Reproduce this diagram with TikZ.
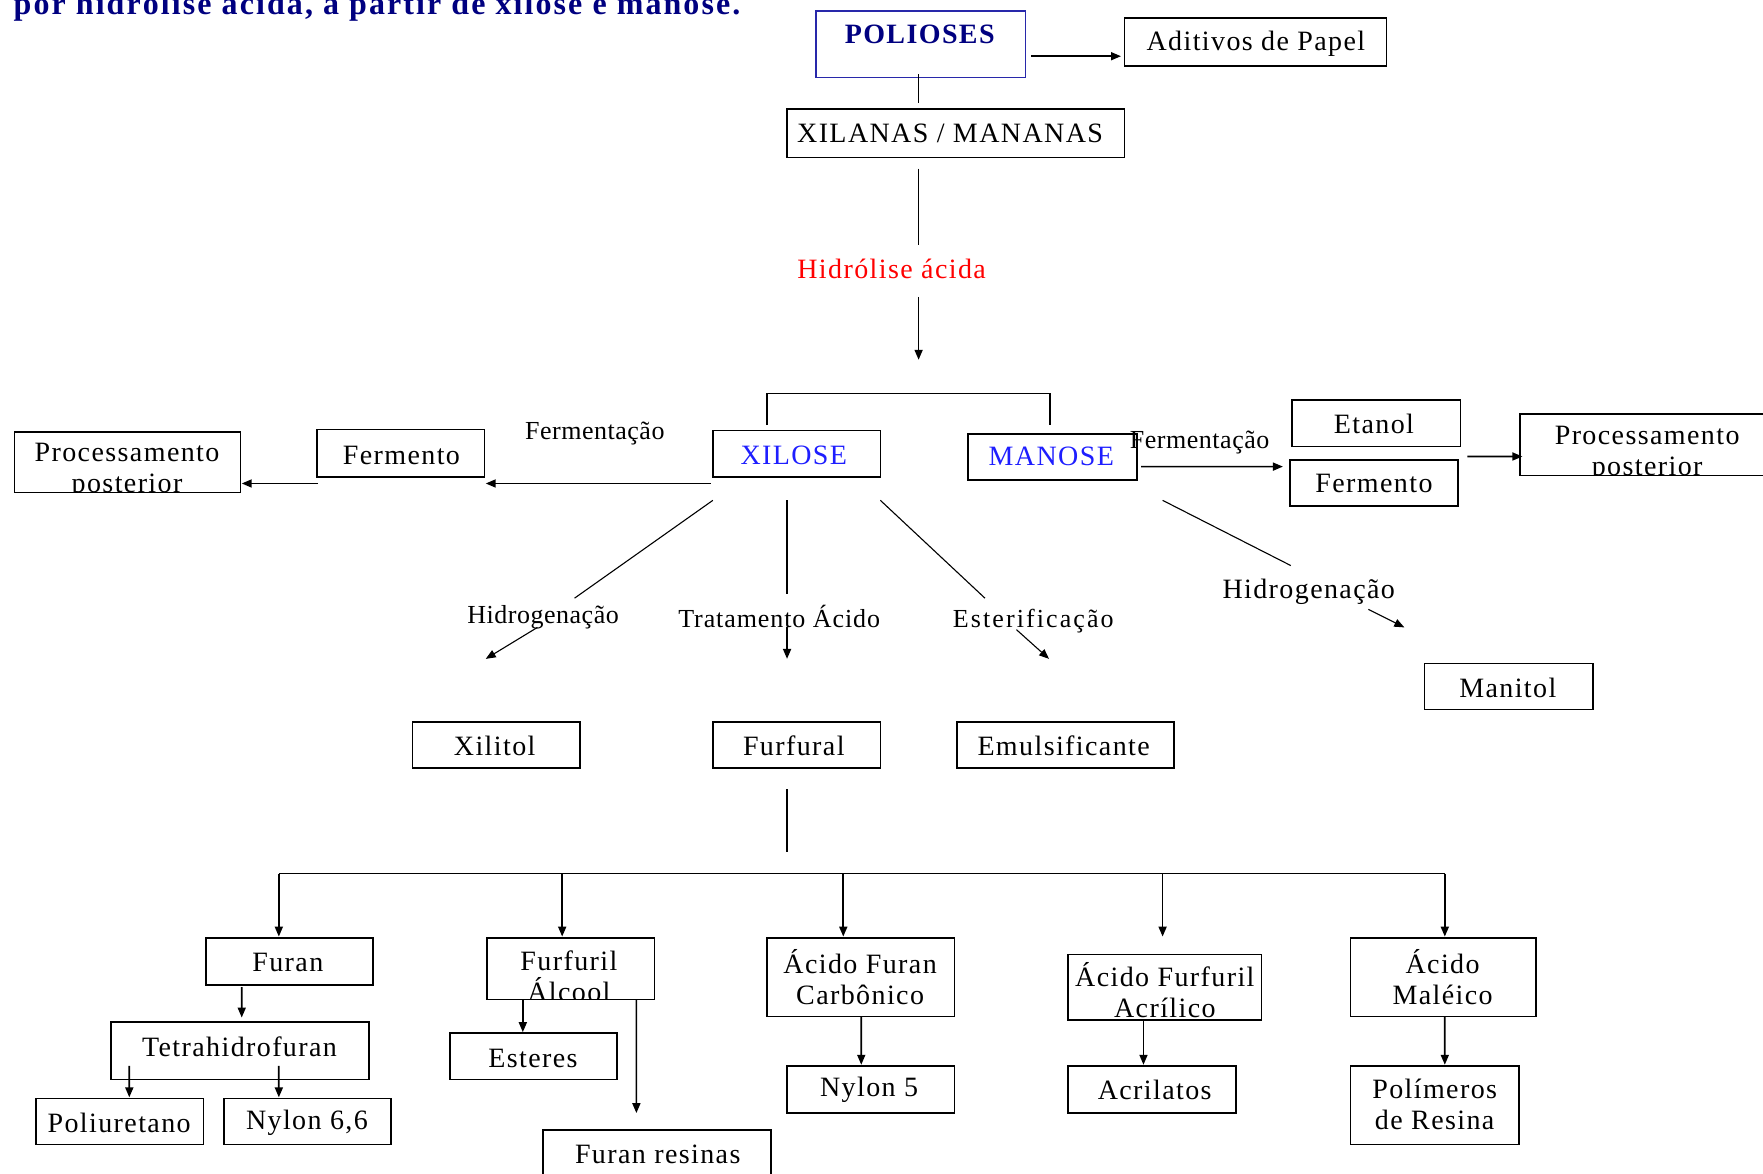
\documentclass[tikz,border=0pt]{standalone}
\usepackage{fontspec}
\setmainfont{Liberation Serif}
\newfontfamily\lsfam[LetterSpace=5]{Liberation Serif}
\newfontfamily\lbfam[LetterSpace=2]{Liberation Serif}
\newfontfamily\trfam[LetterSpace=3.5]{Liberation Serif}
\newfontfamily\esfam[LetterSpace=8]{Liberation Serif}
\newfontfamily\ttlfam[LetterSpace=6.5]{Liberation Serif}
\usetikzlibrary{arrows.meta,fit}
\definecolor{navyT}{RGB}{0,0,128}
\definecolor{polB}{RGB}{40,40,170}
\definecolor{sugB}{RGB}{30,30,255}
\newcommand\bxfont{\lsfam\fontsize{28}{31}\selectfont}
\newcommand\lbfont{\lbfam\fontsize{26}{30}\selectfont}
\begin{document}
\begin{tikzpicture}[x=1.1244pt,y=-1.1244pt,
  bx/.style={draw, line width=1.7pt, inner sep=0pt, outer sep=0pt},
  txt/.style={font=\bxfont, align=center, inner sep=0pt},
  ln/.style={line width=1.7pt},
  dg/.style={line width=1.1pt},
  arr/.style={line width=1.7pt, -{Triangle[length=10pt,width=8pt]}},
  darr/.style={line width=1.1pt, -{Triangle[length=10pt,width=8pt]}},
  lbl/.style={font=\lbfont, inner sep=0pt}
]
\useasboundingbox (0,0) rectangle (1568,1044);
\fill[white] (0,0) rectangle (1568,1044);

% title (cut at top, as in the original)
\node[anchor=base west, inner sep=0pt, font=\ttlfam\bfseries\fontsize{32}{36}\selectfont, text=navyT] (title) at (12,12.5) {por hidrólise ácida, a partir de xilose e manose.};

% ---- boxes ----
\node[bx, draw=polB, fit={(726,10) (912,69)}] (pol) {};
\node[bx, fit={(1000,16) (1233,59)}] (adit) {};
\node[bx, fit={(700,97) (1000,140)}] (xil) {};
\node[bx, fit={(634,383) (783,424)}] (xilose) {};
\node[bx, fit={(861,386) (1011,427)}] (manose) {};
\node[bx, fit={(282,382) (431,424)}] (fermL) {};
\node[bx, fit={(13,384) (214,438)}] (procL) {};
\node[bx, fit={(1149,356) (1299,397)}] (etanol) {};
\node[bx, fit={(1147,409) (1297,450)}] (fermR) {};
\node[bx, fit={(1352,368) (1578,423)}] (procR) {};
\node[bx, fit={(1267,590) (1417,631)}] (manitol) {};
\node[bx, fit={(367,642) (516,683)}] (xilitol) {};
\node[bx, fit={(634,642) (783,683)}] (furfural) {};
\node[bx, fit={(851,642) (1044,683)}] (emul) {};
\node[bx, fit={(183,834) (332,876)}] (furan) {};
\node[bx, fit={(433,834) (582,889)}] (falc) {};
\node[bx, fit={(682,834) (849,904)}] (afc) {};
\node[bx, fit={(950,849) (1122,907)}] (afa) {};
\node[bx, fit={(1201,834) (1366,904)}] (amal) {};
\node[bx, fit={(99,909) (328,960)}] (thf) {};
\node[bx, fit={(32,977) (181,1018)}] (poli) {};
\node[bx, fit={(199,977) (348,1018)}] (ny66) {};
\node[bx, fit={(400,919) (549,960)}] (est) {};
\node[bx, fit={(483,1005) (686,1047)}] (fres) {};
\node[bx, fit={(700,948) (849,990)}] (ny5) {};
\node[bx, fit={(950,948) (1099,990)}] (acr) {};
\node[bx, fit={(1201,948) (1351,1018)}] (pres) {};

% ---- box texts ----
\node[txt, font=\bxfont\bfseries, text=navyT] (polT) at (818,31) {POLIOSES};
\node[txt] (aditT) at (1117,39) {Aditivos de Papel};
\node[txt] (xilT) at (845,119) {XILANAS / MANANAS};
\node[txt, text=sugB] (xiloseT) at (706,405) {XILOSE};
\node[txt, text=sugB] (manoseT) at (935,406) {MANOSE};
\node[txt] (fermLT) at (357,405) {Fermento};
\begin{scope}
  \clip (procL.south west) rectangle (procL.north east);
  \node[txt] (procLT) at (113,419) {Processamento\\posterior};
\end{scope}
\node[txt] (etanolT) at (1222,377) {Etanol};
\node[txt] (fermRT) at (1222,430) {Fermento};
\begin{scope}
  \clip (procR.south west) rectangle (procR.north east);
  \node[txt] (procRT) at (1465,404) {Processamento\\posterior};
\end{scope}
\node[txt] (manitolT) at (1341,612) {Manitol};
\node[txt] (xilitolT) at (440,663) {Xilitol};
\node[txt] (furfuralT) at (706,663) {Furfural};
\node[txt] (emulT) at (946,663) {Emulsificante};
\node[txt] (furanT) at (256,856) {Furan};
\begin{scope}
  \clip (falc.south west) rectangle (falc.north east);
  \node[txt] (falcT) at (506,868) {Furfuril\\Álcool};
\end{scope}
\node[txt] (afcT) at (765,869) {Ácido Furan\\Carbônico};
\node[txt] (afaT) at (1036,881) {Ácido Furfuril\\Acrílico};
\node[txt] (amalT) at (1283,869) {Ácido\\Maléico};
\node[txt] (thfT) at (213,931) {Tetrahidrofuran};
\node[txt] (poliT) at (106,999) {Poliuretano};
\node[txt] (ny66T) at (273,999) {Nylon 6,6};
\node[txt] (estT) at (474,941) {Esteres};
\node[txt] (fresT) at (585,1027) {Furan resinas};
\node[txt] (ny5T) at (773,969) {Nylon 5};
\node[txt] (acrT) at (1027,969) {Acrilatos};
\node[txt] (presT) at (1276,982) {Polímeros\\de Resina};

% ---- labels ----
\node[txt, text=red] (hidT) at (793,239) {Hidrólise ácida};
\node[lbl] (fermXL) at (529,386) {Fermentação};
\node[lbl] (fermML) at (1067,394) {Fermentação};
\node[lbl] (hidXL) at (483,549) {Hidrogenação};
\node[lbl, font=\trfam\fontsize{26}{30}\selectfont] (tratL) at (693,548) {Tratamento Ácido};
\node[lbl, font=\esfam\fontsize{26}{30}\selectfont] (esterL) at (919,552) {Esterificação};
\node[txt] (hidML) at (1164,526) {Hidrogenação};

% ---- connectors ----
\draw[arr] ([shift={(5,10.5)}]pol.east) -- ([shift={(-3,12.5)}]adit.west);
\draw[ln] ([shift={(-2,-3)}]pol.south) -- ([shift={(-33,-5)}]xil.north);
\draw[ln] ([shift={(-33,10)}]xil.south) -- ([shift={(-33,78)}]xil.south);
\draw[arr] ([shift={(24,25)}]hidT.center) -- ([shift={(24,81)}]hidT.center);

% bracket over the sugars
\draw[ln] ([shift={(-26.5,-5)}]xilose.north) |- ([shift={(-2,-36)}]manose.north) -- ([shift={(-2,-8)}]manose.north);

% xilose fermentation
\draw[arr] ([shift={(-2,6)}]xilose.south west) -- ([shift={(1,6)}]fermL.south east);
\draw[arr] ([shift={(1,6)}]fermL.south west) -- ([shift={(1,19)}]procL.east);

% manose fermentation
\draw[arr] ([shift={(4,8.5)}]manose.east) -- ([shift={(-6,-14.5)}]fermR.west);
\draw[arr] ([shift={(8,-3)}]fermR.north east) -- ([shift={(2,10.5)}]procR.west);

% xilose branches
\draw[dg] ([shift={(0,21)}]xilose.south west) -- ([shift={(28,-17)}]hidXL.center);
\draw[darr] ([shift={(-5,9)}]hidXL.center) -- ([shift={(-51,37)}]hidXL.center);
\draw[ln] ([shift={(-8.5,21)}]xilose.south) -- ([shift={(7,-20)}]tratL.center);
\draw[arr] ([shift={(7,10)}]tratL.center) -- ([shift={(7,38)}]tratL.center);
\draw[dg] ([shift={(0,21)}]xilose.south east) -- ([shift={(-43,-20)}]esterL.center);
\draw[darr] ([shift={(-15,8)}]esterL.center) -- ([shift={(14,34)}]esterL.center);

% manose branch
\draw[dg] ([shift={(23,18)}]manose.south east) -- ([shift={(-16,-23)}]hidML.center);
\draw[darr] ([shift={(53,16)}]hidML.center) -- ([shift={(85,32)}]hidML.center);

% furfural bus
\draw[ln] ([shift={(-8.5,19)}]furfural.south) -- ([shift={(-8.5,75)}]furfural.south);
\draw[ln] ([shift={(-9.5,-57)}]furan.north) -- ([shift={(1.5,-57)}]amal.north);
\draw[arr] ([shift={(-9.5,-57)}]furan.north) -- ([shift={(-9.5,-1)}]furan.north);
\draw[arr] ([shift={(-7.5,-57)}]falc.north) -- ([shift={(-7.5,-1)}]falc.north);
\draw[arr] ([shift={(-15.5,-57)}]afc.north) -- ([shift={(-15.5,-1)}]afc.north);
\draw[arr] ([shift={(-2,-72)}]afa.north) -- ([shift={(-2,-16)}]afa.north);
\draw[arr] ([shift={(1.5,-57)}]amal.north) -- ([shift={(1.5,-1)}]amal.north);

% lower derivatives
\draw[arr] ([shift={(-42.5,2)}]furan.south) -- ([shift={(1.5,-4)}]thf.north);
\draw[arr] ([shift={(16,-12)}]thf.south west) -- ([shift={(8.5,-1)}]poli.north);
\draw[arr] ([shift={(34.5,-12)}]thf.south) -- ([shift={(-25.5,-1)}]ny66.north);
\draw[arr] ([shift={(32,0)}]falc.south west) -- ([shift={(-9.5,-1)}]est.north);
\draw[arr] ([shift={(-16,0)}]falc.south east) -- ([shift={(-18.5,-15)}]fres.north);
\draw[arr] ([shift={(0.5,0)}]afc.south) -- ([shift={(-8.5,-1)}]ny5.north);
\draw[arr] ([shift={(-19,0)}]afa.south) -- ([shift={(-7.5,-1)}]acr.north);
\draw[arr] ([shift={(1.5,0)}]amal.south) -- ([shift={(9,-1)}]pres.north);
\end{tikzpicture}
\end{document}
